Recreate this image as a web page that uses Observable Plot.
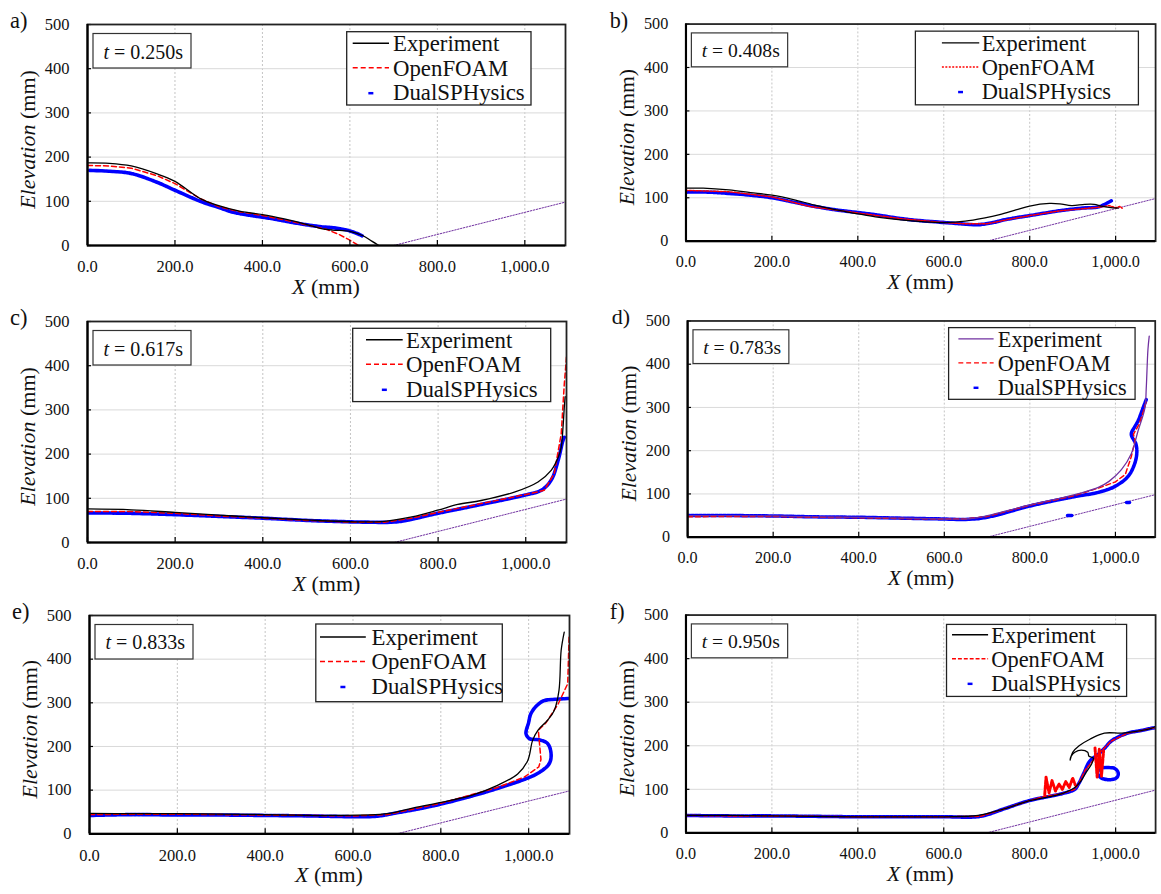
<!DOCTYPE html>
<html><head><meta charset="utf-8">
<script src="https://cdn.jsdelivr.net/npm/d3@7"></script>
<script src="https://cdn.jsdelivr.net/npm/@observablehq/plot@0.6"></script>
<style>
html,body{margin:0;padding:0;background:#fff;overflow:hidden;width:1161px;height:894px}
#wrap{position:relative;width:1161px;height:894px;overflow:hidden;background:#fff}
.panel{position:absolute}
#wrap svg, #wrap svg text{font-family:'Liberation Serif','Times New Roman',serif !important}
</style></head><body><div id="wrap"></div>
<script>
// ---------- shared ----------
const xTicks = [0, 200, 400, 600, 800, 1000];
const yTicks = [0, 100, 200, 300, 400, 500];
const seriesNames = ["Experiment", "OpenFOAM", "DualSPHysics"];
const slopeX = [700, 1100];
const slopeY = [0, 100];

// ---------- a) t = 0.250 s ----------
const aExpX = [0,50,100,159,200,258,300,350,400,450,500,532,560,600,630,650,666];
const aExpY = [187,186,180,162,145,106,90,77,70,60,48,39,35,32,22,10,0];
const aFoamX = [0,50,100,159,200,258,300,350,400,450,500,548,575,600,620];
const aFoamY = [181,180,175,158,140,106,88,76,68,58,47,36,25,12,0];
const aSphX = [5,50,100,159,200,258,300,334,373,420,487,530,563,600,628];
const aSphY = [170,168,163,143,125,100,86,75,68,61,49,43,40,33,22];

// ---------- b) t = 0.408 s ----------
const bExpX = [0,40,100,150,200,250,300,350,400,441,500,550,601,650,693,730,768,800,846,870,898,928,950,967,985,1006];
const bExpY = [122,122,118,112,106,96,83,72,63,56,49,45,43,46,53,61,72,81,87,86,82,85,85,81,78,76];
const bFoamX = [0,100,200,288,400,500,600,650,700,750,800,870,960,985,1000,1010,1015];
const bFoamY = [117,114,102,80,65,52,43,40,40,50,59,70,78,82,77,80,76];
const bSphX = [0,50,100,150,200,250,300,350,400,441,517,601,640,677,710,745,800,869,920,960,975,990];
const bSphY = [113,113,110,106,100,90,80,72,66,61,50,43,40,38,42,50,59,70,76,79,85,93];

// ---------- c) t = 0.617 s ----------
const cExpX = [0,100,200,300,400,500,600,677,740,799,845,898,974,1028,1058,1075,1081,1085,1088,1090];
const cExpY = [76,74,68,62,56,51,47,48,58,73,86,95,114,137,163,195,216,260,306,330];
const cFoamX = [0,100,200,300,400,500,600,677,740,799,898,997,1042,1065,1081,1088,1093,1096];
const cFoamY = [70,70,66,60,55,50,46,46,55,68,88,108,118,156,246,359,420,450];
const cSphX = [0,100,200,300,400,500,555,640,708,799,898,997,1035,1058,1074,1085,1088];
const cSphY = [67,66,63,59,55,50,48,46,47,66,86,107,118,141,186,231,238];

// ---------- d) t = 0.783 s ----------
const dExpX = [0,100,200,300,400,500,600,650,694,750,809,870,923,960,985,1014,1037,1053,1069,1072,1076,1079];
const dExpY = [50,50,49,47,46,44,42,42,48,62,77,90,103,115,129,156,193,246,299,344,434,465];
const dFoamX = [0,100,200,300,400,500,600,650,700,800,900,962,1000,1023,1037,1046,1042,1055,1065,1072];
const dFoamY = [47,48,48,46,45,43,42,42,48,74,95,114,128,145,186,224,238,260,290,314];
const dSphX = [0,100,200,300,400,500,600,650,700,800,900,962,1000,1030,1045,1050,1048,1037,1045,1053,1065,1072];
const dSphY = [50,50,49,47,46,44,42,41,46,72,93,104,118,141,170,195,215,238,255,269,300,318];
const dDrop1X = [888,898], dDrop1Y = [50,50];
const dDrop2X = [1026,1034], dDrop2Y = [80,80];

// ---------- e) t = 0.833 s ----------
const eExpX = [0,100,200,300,400,500,549,678,740,800,870,929,975,998,1009,1021,1043,1058,1069,1074,1081];
const eExpY = [47,46,46,45,44,42,42,46,60,72,88,111,137,168,214,237,260,282,328,420,462];
const eFoamX = [0,100,200,300,400,500,600,678,800,929,990,1023,1028,1022,1040,1067,1089,1092];
const eFoamY = [44,45,45,44,43,42,41,44,70,106,130,153,170,237,255,297,344,450];
const eSphX = [0,100,200,300,400,500,549,650,700,800,929,1020,1047,1051,1043,1025,1002,994,1000,1005,1020,1035,1060,1092];
const eSphY = [42,44,43,43,42,41,40,40,48,68,104,138,161,184,207,215,218,229,255,275,295,305,308,310];

// ---------- f) t = 0.950 s ----------
const fExpX = [0,100,200,300,400,500,600,680,740,800,850,880,905,920,932,945,948,938,935,920,905,896,894,900,915,940,974,1013,1040,1060,1083,1095];
const fExpY = [40,40,39,38,37,37,37,40,55,74,84,92,104,120,140,160,172,176,185,190,185,175,167,185,200,215,229,229,232,235,240,245];
const fFoamX = [0,100,200,300,400,500,600,685,740,799,835,875,905,914,929,959,990,1028,1060,1083,1095];
const fFoamY = [40,39,39,38,37,37,37,38,55,74,84,90,100,113,144,180,211,229,235,240,242];
const fBlobX = [835,838,845,852,860,868,876,884,892,900,906];
const fBlobY = [88,128,92,120,96,112,100,118,104,126,110];
const fColX = [952,957,962,967,972];
const fColY = [195,128,192,130,188];
const fSphX = [0,100,200,300,400,500,600,685,740,799,875,905,914,925,929,940,959,975,990,1028,1060,1083,1095];
const fSphY = [40,39,39,38,37,37,37,38,55,74,90,100,113,135,144,165,180,195,211,229,235,240,242];
const fLoopX = [985,965,958,965,985,1003,1006,998,985];
const fLoopY = [150,148,138,127,122,127,138,148,150];

// ---------- build ----------
function pts(xs, ys, seg = 0) { return xs.map((x, i) => ({x, y: ys[i], seg})); }
const fmtX = d3.format(",.1f");
const F = "'Liberation Serif','Times New Roman',serif";

const panels = [
  {id:"a", t:"0.250", fl:87, ft:24, fw:478, fh:221, expColor:"#000", foamDash:"5,3",
   exp:[pts(aExpX,aExpY)], foam:[pts(aFoamX,aFoamY)], spray:[], sph:[pts(aSphX,aSphY)],
   leg:{x:259.7, y:7.7, w:184.3, h:73.3, s0:265.7, s1:302, tx:306, db:0}},
  {id:"b", t:"0.408", fl:687, ft:24, fw:478, fh:221, expColor:"#000", foamDash:"2,1.5",
   exp:[pts(bExpX,bExpY)], foam:[pts(bFoamX,bFoamY)], spray:[], sph:[pts(bSphX,bSphY)],
   leg:{x:234, y:7.7, w:227, h:75, s0:261, s1:299, tx:301.5, db:0.5}},
  {id:"c", t:"0.617", fl:87, ft:321, fw:479, fh:221, expColor:"#000", foamDash:"5,3",
   exp:[pts(cExpX,cExpY)], foam:[pts(cFoamX,cFoamY)], spray:[], sph:[pts(cSphX,cSphY)],
   leg:{x:265.7, y:7.3, w:198, h:73.3, s0:279, s1:315.7, tx:319, db:0}},
  {id:"d", t:"0.783", fl:689.4, ft:321, fw:478, fh:221, expColor:"#7030a0", foamDash:"5,3",
   exp:[pts(dExpX,dExpY)], foam:[pts(dFoamX,dFoamY)], spray:[],
   sph:[pts(dSphX,dSphY,0), pts(dDrop1X,dDrop1Y,1), pts(dDrop2X,dDrop2Y,2)],
   leg:{x:267.3, y:7.3, w:190.6, h:73.3, s0:277.3, s1:313.3, tx:317.6, db:0}},
  {id:"e", t:"0.833", fl:89.2, ft:615, fw:480, fh:218.3, expColor:"#000", foamDash:"5,3",
   exp:[pts(eExpX,eExpY)], foam:[pts(eFoamX,eFoamY)], spray:[], sph:[pts(eSphX,eSphY)],
   leg:{x:226.8, y:9, w:186.5, h:77.7, s0:231, s1:276.8, tx:282.5, db:1.5}},
  {id:"f", t:"0.950", fl:687, ft:615, fw:478, fh:221.7, expColor:"#000", foamDash:"4,2",
   exp:[pts(fExpX,fExpY)], foam:[pts(fFoamX,fFoamY,0)], spray:[pts(fBlobX,fBlobY,1), pts(fColX,fColY,2)],
   sph:[pts(fSphX,fSphY,0), pts(fLoopX,fLoopY,1)],
   leg:{x:265.7, y:10, w:183.3, h:73.3, s0:271.3, s1:308, tx:311.3, db:-1}}
];

const wrap = document.getElementById("wrap");
const ML = 87, MT = 24, MB = 52, MR = 6;

for (const p of panels) {
  const exp = p.exp.flat(), foam = p.foam.flat(), sph = p.sph.flat(), spray = p.spray.flat();
  const chart = Plot.plot({
    width: ML + p.fw + MR, height: MT + p.fh + MB,
    marginLeft: ML, marginTop: MT, marginRight: MR, marginBottom: MB,
    x: {domain: [0, 1093], label: null},
    y: {domain: [0, 500], label: null},
    style: {fontFamily: F, fontSize: "16.5px", color: "#111", background: "transparent", overflow: "visible"},
    marks: [
      Plot.ruleX(xTicks.slice(1), {x: d => d, stroke: "#c4c4c4", strokeDasharray: "2,2"}),
      Plot.ruleY(yTicks.slice(1, -1), {y: d => d, stroke: "#d9d9d9"}),
      Plot.line(pts(slopeX, slopeY), {x: "x", y: "y", stroke: "#7030a0", strokeWidth: 1, strokeDasharray: "1.5,1.5", clip: true}),
      Plot.line(sph, {x: "x", y: "y", z: "seg", stroke: "#0000ff", strokeWidth: 3.6, strokeDasharray: "3,1", clip: true, curve: "catmull-rom"}),
      Plot.line(foam, {x: "x", y: "y", z: "seg", stroke: "#ff0000", strokeWidth: 1.5, strokeDasharray: p.foamDash, clip: true}),
      Plot.line(spray, {x: "x", y: "y", z: "seg", stroke: "#ff0000", strokeWidth: 3, strokeDasharray: "4,1.5", clip: true}),
      Plot.line(exp, {x: "x", y: "y", z: "seg", stroke: p.expColor, strokeWidth: 1.3, clip: true, curve: "catmull-rom"}),
      Plot.tickX(xTicks, {x: d => d, insetTop: p.fh - 5, stroke: "#000", strokeWidth: 1.2}),
      Plot.tickY(yTicks, {y: d => d, insetRight: p.fw - 4, stroke: "#000", strokeWidth: 1.2}),
      Plot.frame({stroke: "#222", strokeWidth: 1.8}),
      Plot.ruleX([0], {stroke: "#000", strokeWidth: 2.2}),
      Plot.ruleY([0], {stroke: "#000", strokeWidth: 2.2}),
      Plot.axisX(xTicks, {tickFormat: fmtX, tickSize: 0, tickPadding: 15, fontSize: 16.5, label: null}),
      Plot.axisY(yTicks, {tickSize: 0, tickPadding: 18, fontSize: 16.5, label: null})
    ]
  });
  const div = document.createElement("div");
  div.className = "panel";
  div.style.left = (p.fl - ML) + "px";
  div.style.top = (p.ft - MT) + "px";
  div.appendChild(chart);
  wrap.appendChild(div);

  const svg = d3.select(chart);
  // panel letter
  svg.append("text").attr("x", 10).attr("y", MT + 4).attr("text-anchor", "start").attr("font-size", 22.5).attr("font-family", F).attr("fill", "#111").text(p.id + ")");
  // y label
  const yl = svg.append("text").attr("transform", `translate(${ML - 52},${MT + p.fh / 2 + 5}) rotate(-90)`)
    .attr("text-anchor", "middle").attr("font-size", 22).attr("font-family", F).attr("fill", "#111").style("white-space", "pre");
  yl.append("tspan").attr("font-style", "italic").text("Elevation");
  yl.append("tspan").text(" (mm)");
  // x label
  const xl = svg.append("text").attr("x", ML + p.fw / 2).attr("y", MT + p.fh + 49)
    .attr("text-anchor", "middle").attr("font-size", 22).attr("font-family", F).attr("fill", "#111").style("white-space", "pre");
  xl.append("tspan").attr("font-style", "italic").text("X");
  xl.append("tspan").text(" (mm)");
  // time box
  const g = svg.append("g").attr("transform", `translate(${ML + 6},${MT + 9.5})`);
  g.append("rect").attr("width", 98).attr("height", 34.5).attr("fill", "#fff").attr("stroke", "#333").attr("stroke-width", 1.2);
  const tt = g.append("text").attr("x", 10.5).attr("y", 25).attr("text-anchor", "start").attr("font-size", 20).attr("font-family", F).attr("fill", "#111").style("white-space", "pre");
  tt.append("tspan").attr("font-style", "italic").text("t");
  tt.append("tspan").text(" = " + p.t + "s");
  // legend
  const L = p.leg;
  const lg = svg.append("g").attr("transform", `translate(${ML + L.x},${MT + L.y})`);
  lg.append("rect").attr("width", L.w).attr("height", L.h).attr("fill", "#fff").attr("stroke", "#222").attr("stroke-width", 1.3);
  const base = [19.5 + L.db, 44 + L.db, 68.5 + L.db];
  const sx0 = L.s0 - L.x, sx1 = L.s1 - L.x, tx = L.tx - L.x;
  seriesNames.forEach((name, i) => {
    const yy = base[i] - 8;
    if (i === 0) lg.append("line").attr("x1", sx0).attr("x2", sx1).attr("y1", yy).attr("y2", yy).attr("stroke", p.expColor).attr("stroke-width", 1.4);
    if (i === 1) lg.append("line").attr("x1", sx0).attr("x2", sx1).attr("y1", yy).attr("y2", yy).attr("stroke", "#ff0000").attr("stroke-width", 1.4).attr("stroke-dasharray", p.foamDash);
    if (i === 2) { const m = (sx0 + sx1) / 2; lg.append("line").attr("x1", m - 2.5).attr("x2", m + 2.5).attr("y1", yy + 1).attr("y2", yy + 1).attr("stroke", "#0000ff").attr("stroke-width", 2.5); }
    lg.append("text").attr("x", tx).attr("y", base[i]).attr("text-anchor", "start").attr("font-size", 22.8).attr("font-family", F).attr("fill", "#111").text(name);
  });
}
</script>
</body></html>
